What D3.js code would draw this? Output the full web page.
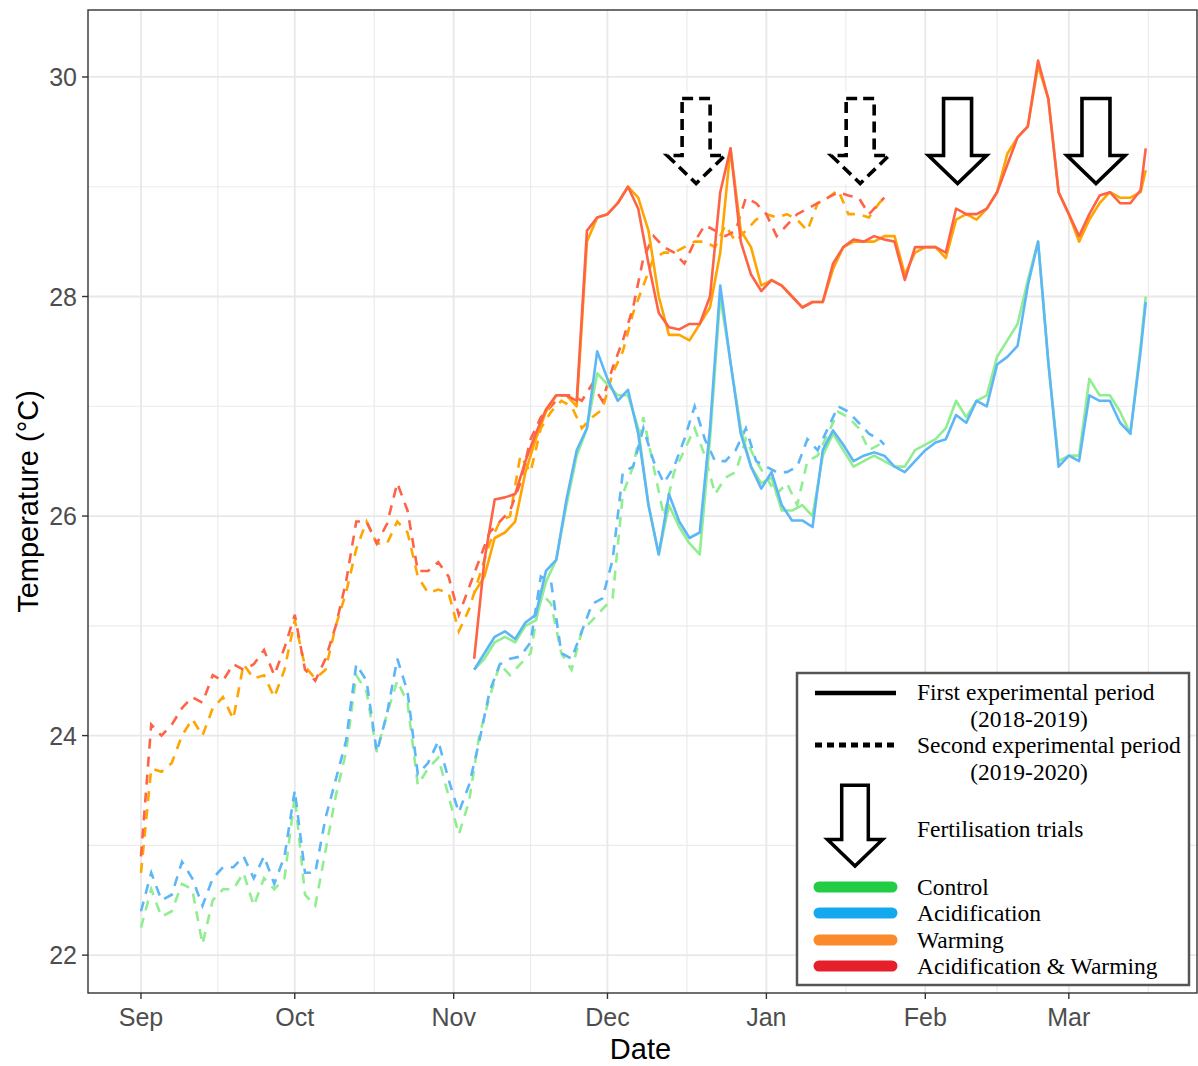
<!DOCTYPE html>
<html>
<head>
<meta charset="utf-8">
<script src="https://cdn.jsdelivr.net/npm/d3@7"></script>
<style>
  body { margin: 0; background: #fff; }
  text { font-family: "Liberation Sans", Arial, sans-serif; }
  .leg text { font-family: "Liberation Serif", "Times New Roman", serif; font-size: 23.5px; fill: #000; }
</style>
</head>
<body>
<svg id="chart" width="1198" height="1066"></svg>
<script>
// ---- data (MM-DD, Sep-Dec of first year, Jan-Mar of the next) ----

// second experimental period (2019-2020), dashed
const datesSecond = [
  "09-01","09-03","09-05","09-07","09-09","09-11","09-13","09-15","09-17","09-19","09-21","09-23","09-25","09-27","09-29",
  "10-01","10-03","10-05","10-07","10-09","10-11","10-13","10-15","10-17","10-19","10-21","10-23","10-25","10-27","10-29","10-31",
  "11-02","11-04","11-06","11-08","11-10","11-12","11-14","11-16","11-18","11-20","11-22","11-24","11-26","11-28","11-30",
  "12-02","12-04","12-06","12-08","12-10","12-12","12-14","12-16","12-18","12-20","12-22","12-24","12-26","12-28","12-30",
  "01-01","01-03","01-05","01-07","01-09","01-11","01-13","01-15","01-17","01-19","01-21","01-23","01-24"];
const control2 = [22.25,22.6,22.35,22.4,22.65,22.6,22.1,22.5,22.6,22.6,22.75,22.45,22.7,22.6,22.7,
  23.45,22.55,22.45,22.95,23.45,23.85,24.55,24.4,23.85,24.2,24.5,24.3,23.55,23.7,23.8,23.45,
  23.1,23.4,24.0,24.35,24.65,24.55,24.65,24.75,25.3,25.2,24.75,24.6,24.95,25.05,25.15,
  25.25,26.2,26.45,26.9,26.45,26.0,26.4,26.6,26.8,26.55,26.2,26.35,26.4,26.7,26.5,
  26.35,26.2,26.3,26.1,26.5,26.55,26.75,26.95,26.9,26.8,26.6,26.65,26.65];
const acid2 = [22.4,22.75,22.5,22.55,22.85,22.7,22.45,22.7,22.8,22.8,22.9,22.7,22.9,22.65,22.9,
  23.5,22.75,22.75,23.25,23.6,23.95,24.65,24.5,23.85,24.2,24.7,24.4,23.65,23.75,23.95,23.6,
  23.3,23.55,23.95,24.4,24.65,24.7,24.72,24.85,25.45,25.4,24.75,24.7,24.95,25.2,25.25,
  25.6,26.4,26.45,26.8,26.5,26.3,26.45,26.7,27.0,26.7,26.5,26.5,26.6,26.8,26.5,
  26.45,26.4,26.4,26.45,26.7,26.6,26.8,27.0,26.95,26.85,26.75,26.7,26.65];
const warm2 = [22.75,23.7,23.67,23.75,24.0,24.15,24.0,24.25,24.35,24.15,24.65,24.52,24.55,24.35,24.6,
  25.05,24.63,24.52,24.6,25.0,25.3,25.7,25.95,25.75,25.75,25.95,25.85,25.45,25.3,25.33,25.3,
  24.95,25.15,25.45,25.75,25.95,26.0,26.55,26.4,26.8,26.95,27.05,27.0,26.8,26.9,26.97,
  27.3,27.5,27.85,28.1,28.35,28.4,28.4,28.45,28.5,28.5,28.45,28.65,28.5,28.6,28.7,
  28.75,28.72,28.75,28.7,28.6,28.85,28.9,28.97,28.75,28.75,28.72,28.85,28.9];
const acidWarm2 = [22.9,24.1,24.0,24.1,24.25,24.35,24.3,24.55,24.5,24.65,24.6,24.65,24.78,24.55,24.8,
  25.1,24.6,24.5,24.7,25.0,25.4,25.95,25.95,25.75,25.93,26.3,26.05,25.5,25.5,25.58,25.45,
  25.1,25.35,25.6,25.85,25.95,26.05,26.3,26.7,26.9,27.0,27.1,27.1,27.05,27.2,27.05,
  27.35,27.6,27.9,28.35,28.55,28.45,28.4,28.3,28.5,28.65,28.6,28.55,28.6,28.9,28.85,
  28.75,28.55,28.65,28.75,28.8,28.85,28.9,28.95,28.92,28.9,28.75,28.85,28.9];

// first experimental period (2018-2019), solid
const datesFirst = [
  "11-05","11-07","11-09","11-11","11-13","11-15","11-17","11-19","11-21","11-23","11-25","11-27","11-29",
  "12-01","12-03","12-05","12-07","12-09","12-11","12-13","12-15","12-17","12-19","12-21","12-23","12-25","12-27","12-29","12-31",
  "01-02","01-04","01-06","01-08","01-10","01-12","01-14","01-16","01-18","01-20","01-22","01-24","01-26","01-28","01-30",
  "02-01","02-03","02-05","02-07","02-09","02-11","02-13","02-15","02-17","02-19","02-21","02-23","02-25","02-27",
  "03-01","03-03","03-05","03-07","03-09","03-11","03-13","03-15","03-16"];
const control1 = [24.6,24.7,24.85,24.9,24.85,25.0,25.05,25.4,25.6,26.1,26.55,26.8,27.3,
  27.2,27.1,27.1,26.8,26.1,25.65,26.1,25.9,25.75,25.65,26.7,28.0,27.4,26.8,26.45,26.3,
  26.35,26.05,26.05,26.1,26.0,26.55,26.75,26.6,26.45,26.5,26.55,26.5,26.45,26.45,26.6,
  26.65,26.7,26.8,27.05,26.9,27.05,27.1,27.45,27.6,27.75,28.15,28.5,27.4,26.5,
  26.55,26.55,27.25,27.1,27.1,26.95,26.75,27.55,28.0];
const acid1 = [24.6,24.75,24.9,24.95,24.88,25.03,25.1,25.5,25.6,26.15,26.6,26.8,27.5,
  27.25,27.05,27.15,26.75,26.1,25.65,26.2,25.95,25.8,25.85,26.8,28.1,27.4,26.75,26.45,26.25,
  26.4,26.1,25.96,25.96,25.9,26.6,26.78,26.65,26.5,26.55,26.58,26.55,26.45,26.4,26.5,
  26.6,26.67,26.7,26.92,26.85,27.05,27.0,27.38,27.45,27.55,28.1,28.5,27.4,26.45,
  26.55,26.5,27.1,27.05,27.05,26.85,26.75,27.5,27.95];
const warm1 = [25.3,25.45,25.8,25.85,25.95,26.4,26.7,26.95,27.1,27.1,27.0,28.5,28.72,
  28.75,28.85,29.0,28.9,28.6,28.0,27.65,27.65,27.6,27.75,27.9,28.4,29.35,28.6,28.45,28.1,
  28.15,28.1,28.0,27.9,27.95,27.95,28.25,28.45,28.5,28.5,28.5,28.55,28.55,28.2,28.4,
  28.45,28.45,28.35,28.7,28.75,28.7,28.8,28.95,29.3,29.45,29.55,30.1,29.8,28.95,
  28.75,28.5,28.7,28.85,28.95,28.9,28.9,28.95,29.15];
const acidWarm1 = [24.7,25.6,26.15,26.17,26.2,26.5,26.75,26.97,27.1,27.1,27.05,28.6,28.72,
  28.75,28.85,29.0,28.8,28.3,27.85,27.72,27.7,27.75,27.75,28.0,28.95,29.35,28.5,28.2,28.05,
  28.15,28.1,28.0,27.9,27.95,27.95,28.3,28.45,28.52,28.5,28.55,28.52,28.5,28.15,28.45,
  28.45,28.45,28.4,28.8,28.75,28.75,28.8,28.95,29.2,29.45,29.55,30.15,29.8,28.95,
  28.75,28.55,28.75,28.92,28.95,28.85,28.85,28.97,29.35];

const treatments = ["Control", "Acidification", "Warming", "Acidification & Warming"];
const lineColours = ["#90ee90", "#5cb6f7", "#ffa500", "#ff6347"];
const keyColours = ["#22cc44", "#14a9ef", "#fa8a2b", "#e6202a"];

// fertilisation trials: date and which period (dashed outline = second period)
const trialDates = ["12-18", "01-19", "02-07", "03-06"];
const trialDashed = [true, true, false, false];

const monthTicks = ["09-01","10-01","11-01","12-01","01-01","02-01","03-01"];
const monthLabels = ["Sep","Oct","Nov","Dec","Jan","Feb","Mar"];
const yTicks = [22, 24, 26, 28, 30];
const yMinor = [23, 25, 27, 29];

// ---- helpers ----
const parseMD = s => {
  const m = +s.slice(0, 2), d = +s.slice(3, 5);
  return new Date(m >= 8 ? 2018 : 2019, m - 1, d);
};

const svg = d3.select("#chart");
const pLeft = 88, pRight = 1197, pTop = 10, pBottom = 993;

const x = d3.scaleTime()
  .domain([new Date(2018, 7, 21, 16), new Date(2019, 2, 26, 0)])
  .range([pLeft, pRight]);
const y = d3.scaleLinear().domain([21.655, 30.61]).range([pBottom, pTop]);

// minor x breaks halfway between monthly breaks (like ggplot)
const majorDates = monthTicks.map(parseMD);
const ext = [new Date(2018, 7, 1), ...majorDates, new Date(2019, 3, 1)];
const minorDates = [];
for (let i = 0; i < ext.length - 1; i++) {
  minorDates.push(new Date((+ext[i] + +ext[i + 1]) / 2));
}

// grid
const grid = svg.append("g");
grid.selectAll("line.ymin").data(yMinor).enter().append("line")
  .attr("x1", pLeft).attr("x2", pRight)
  .attr("y1", d => y(d)).attr("y2", d => y(d))
  .style("stroke", "#ebebeb").style("stroke-width", 1.2);
grid.selectAll("line.xmin").data(minorDates.filter(d => x(d) > pLeft && x(d) < pRight)).enter().append("line")
  .attr("y1", pTop).attr("y2", pBottom)
  .attr("x1", d => x(d)).attr("x2", d => x(d))
  .style("stroke", "#ebebeb").style("stroke-width", 1.2);
grid.selectAll("line.ymaj").data(yTicks).enter().append("line")
  .attr("x1", pLeft).attr("x2", pRight)
  .attr("y1", d => y(d)).attr("y2", d => y(d))
  .style("stroke", "#e8e8e8").style("stroke-width", 1.8);
grid.selectAll("line.xmaj").data(majorDates).enter().append("line")
  .attr("y1", pTop).attr("y2", pBottom)
  .attr("x1", d => x(d)).attr("x2", d => x(d))
  .style("stroke", "#e8e8e8").style("stroke-width", 1.8);

// the dashed arrows were pasted on with a white box behind them
const arrowTipY = y(29.03);
trialDates.forEach((t, i) => {
  if (!trialDashed[i]) return;
  const cx = x(parseMD(t));
  svg.append("rect")
    .attr("x", cx - 30).attr("y", arrowTipY - 92)
    .attr("width", 61).attr("height", 93)
    .style("fill", "#fff");
});

// ---- series ----
const line = d3.line()
  .x(d => x(d.date))
  .y(d => y(d.value));

const second = [control2, acid2, warm2, acidWarm2];
const first = [control1, acid1, warm1, acidWarm1];

const lines = svg.append("g");
second.forEach((vals, i) => {
  const pts = datesSecond.map((s, j) => ({ date: parseMD(s), value: vals[j] }));
  lines.append("path")
    .datum(pts)
    .attr("d", line)
    .style("fill", "none")
    .style("stroke", lineColours[i])
    .style("stroke-width", 2.6)
    .style("stroke-dasharray", "10,8");
});
first.forEach((vals, i) => {
  const pts = datesFirst.map((s, j) => ({ date: parseMD(s), value: vals[j] }));
  lines.append("path")
    .datum(pts)
    .attr("d", line)
    .style("fill", "none")
    .style("stroke", lineColours[i])
    .style("stroke-width", 2.6)
    .style("stroke-linejoin", "round");
});

// ---- fertilisation arrows ----
function arrowPath(cx, tipY, scale) {
  const sw = 14 * scale, hw = 29 * scale, sh = 57 * scale, hh = 28 * scale;
  const topY = tipY - sh - hh, neck = tipY - hh;
  return `M${cx - sw},${topY} L${cx + sw},${topY} L${cx + sw},${neck} L${cx + hw},${neck} ` +
    `L${cx},${tipY} L${cx - hw},${neck} L${cx - sw},${neck} Z`;
}
trialDates.forEach((t, i) => {
  svg.append("path")
    .attr("d", arrowPath(x(parseMD(t)) + 1.5, arrowTipY, 1))
    .style("fill", trialDashed[i] ? "none" : "#fff")
    .style("stroke", "#000")
    .style("stroke-width", 3.6)
    .style("stroke-linejoin", "miter")
    .style("stroke-dasharray", trialDashed[i] ? "11,6" : null);
});

// panel border
svg.append("rect")
  .attr("x", pLeft).attr("y", pTop)
  .attr("width", pRight - pLeft).attr("height", pBottom - pTop)
  .style("fill", "none").style("stroke", "#333").style("stroke-width", 1.4);

// ---- axes ----
const xAxis = svg.append("g");
xAxis.selectAll("line").data(majorDates).enter().append("line")
  .attr("x1", d => x(d)).attr("x2", d => x(d))
  .attr("y1", pBottom).attr("y2", pBottom + 6)
  .style("stroke", "#333").style("stroke-width", 1.4);
xAxis.selectAll("text").data(majorDates).enter().append("text")
  .attr("x", d => x(d)).attr("y", pBottom + 33)
  .attr("text-anchor", "middle")
  .style("font-size", "25px").style("fill", "#4d4d4d")
  .text((d, i) => monthLabels[i]);

const yAxis = svg.append("g");
yAxis.selectAll("line").data(yTicks).enter().append("line")
  .attr("x1", pLeft - 6).attr("x2", pLeft)
  .attr("y1", d => y(d)).attr("y2", d => y(d))
  .style("stroke", "#333").style("stroke-width", 1.4);
yAxis.selectAll("text").data(yTicks).enter().append("text")
  .attr("x", pLeft - 11).attr("y", d => y(d) + 9)
  .attr("text-anchor", "end")
  .style("font-size", "25px").style("fill", "#4d4d4d")
  .text(d => d);

svg.append("text")
  .attr("x", (pLeft + pRight) / 2 - 2).attr("y", 1059)
  .attr("text-anchor", "middle")
  .style("font-size", "29px").style("fill", "#000")
  .text("Date");
svg.append("text")
  .attr("transform", `translate(38, ${(pTop + pBottom) / 2}) rotate(-90)`)
  .attr("text-anchor", "middle")
  .style("font-size", "29px").style("fill", "#000")
  .text("Temperature (°C)");

// ---- legend ----
const leg = svg.append("g").attr("class", "leg");
leg.append("rect")
  .attr("x", 797).attr("y", 673).attr("width", 392).attr("height", 312)
  .style("fill", "#fff").style("stroke", "#555").style("stroke-width", 2.5);

leg.append("line").attr("x1", 815).attr("x2", 896).attr("y1", 693).attr("y2", 693)
  .style("stroke", "#000").style("stroke-width", 4.5);
leg.append("text").attr("x", 917).attr("y", 700).text("First experimental period");
leg.append("text").attr("x", 1029).attr("y", 727).attr("text-anchor", "middle").text("(2018-2019)");

leg.append("line").attr("x1", 815).attr("x2", 896).attr("y1", 745).attr("y2", 745)
  .style("stroke", "#000").style("stroke-width", 5).style("stroke-dasharray", "7,5");
leg.append("text").attr("x", 917).attr("y", 753).text("Second experimental period");
leg.append("text").attr("x", 1029).attr("y", 780).attr("text-anchor", "middle").text("(2019-2020)");

leg.append("path")
  .attr("d", arrowPath(855, 866, 0.95))
  .style("fill", "#fff").style("stroke", "#000").style("stroke-width", 3.5);
leg.append("text").attr("x", 917).attr("y", 837).text("Fertilisation trials");

const keyY = [887, 913, 940, 966];
treatments.forEach((t, i) => {
  leg.append("line")
    .attr("x1", 819).attr("x2", 892).attr("y1", keyY[i]).attr("y2", keyY[i])
    .style("stroke", keyColours[i]).style("stroke-width", 11).style("stroke-linecap", "round");
  leg.append("text").attr("x", 917).attr("y", keyY[i] + 8).text(t);
});
</script>
</body>
</html>
